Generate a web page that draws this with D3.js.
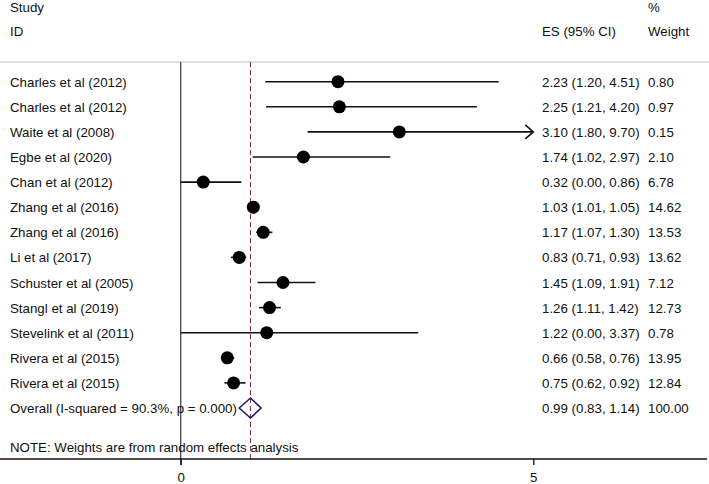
<!DOCTYPE html>
<html><head><meta charset="utf-8">
<script src="https://cdn.jsdelivr.net/npm/d3@7"></script>
<style>body{margin:0;background:#fff}svg{display:block}text{font-family:"Liberation Sans",Arial,sans-serif;font-size:13.3px;fill:#111}</style>
</head><body><svg id="c" width="709" height="484"></svg>
<script>
const studies = ["Charles et al (2012)","Charles et al (2012)","Waite et al (2008)","Egbe et al (2020)","Chan et al (2012)","Zhang et al (2016)","Zhang et al (2016)","Li et al (2017)","Schuster et al (2005)","Stangl et al (2019)","Stevelink et al (2011)","Rivera et al (2015)","Rivera et al (2015)"];
const es =    [2.23,2.25,3.10,1.74,0.32,1.03,1.17,0.83,1.45,1.26,1.22,0.66,0.75];
const lower = [1.20,1.21,1.80,1.02,0.00,1.01,1.07,0.71,1.09,1.11,0.00,0.58,0.62];
const upper = [4.51,4.20,9.70,2.97,0.86,1.05,1.30,0.93,1.91,1.42,3.37,0.76,0.92];
const weights = ["0.80","0.97","0.15","2.10","6.78","14.62","13.53","13.62","7.12","12.73","0.78","13.95","12.84"];
const overall = {es:0.99, lower:0.83, upper:1.14, weight:"100.00", label:"Overall  (I-squared = 90.3%, p = 0.000)"};
const xTicks = [0,5];
const xMax = 5; // display clip (arrow beyond)

const svg = d3.select("#c");
const x = d3.scaleLinear().domain([0,5]).range([180.7,533.3]);
const y = d3.scaleLinear().domain([0,1]).range([81.7,106.8]);
const f2 = d => d.toFixed(2);

// header
svg.append("text").attr("x",10).attr("y",12).text("Study");
svg.append("text").attr("x",10).attr("y",36).text("ID");
svg.append("text").attr("x",648).attr("y",12).text("%");
svg.append("text").attr("x",542).attr("y",36).text("ES (95% CI)");
svg.append("text").attr("x",648).attr("y",36).text("Weight");
svg.append("line").attr("x1",0).attr("x2",709).attr("y1",62).attr("y2",62).attr("stroke","#c4c4c4").attr("stroke-width",1.2);

// zero line
svg.append("line").attr("x1",x(0)).attr("x2",x(0)).attr("y1",62).attr("y2",465).attr("stroke","#444").attr("stroke-width",1.3);
// overall dashed line
svg.append("line").attr("x1",x(overall.es)).attr("x2",x(overall.es)).attr("y1",62).attr("y2",459).attr("stroke","#8b2a3a").attr("stroke-width",1).attr("stroke-dasharray","5,3");

// CI lines
const rows = studies.map((s,i)=>({s,i,es:es[i],lo:lower[i],hi:upper[i],w:weights[i]}));
const g = svg.append("g");
g.selectAll("line.ci").data(rows).join("line").attr("class","ci")
  .attr("x1",d=>x(Math.max(0,d.lo))).attr("x2",d=>x(Math.min(xMax,d.hi)))
  .attr("y1",d=>y(d.i)).attr("y2",d=>y(d.i)).attr("stroke","#111").attr("stroke-width",1.6);
// arrows for clipped
g.selectAll("path.arr").data(rows.filter(d=>d.hi>xMax)).join("path").attr("class","arr")
  .attr("d",d=>{const tx=x(xMax), ty=y(d.i); return `M${tx-8},${ty-7}L${tx},${ty}L${tx-8},${ty+7}`;})
  .attr("fill","none").attr("stroke","#111").attr("stroke-width",1.6);
g.selectAll("circle").data(rows).join("circle")
  .attr("cx",d=>x(d.es)).attr("cy",d=>y(d.i)).attr("r",6.5).attr("fill","#000");

// labels
g.selectAll("text.st").data(rows).join("text").attr("class","st").attr("x",10).attr("y",d=>y(d.i)+5).text(d=>d.s);
g.selectAll("text.es").data(rows).join("text").attr("class","es").attr("x",542).attr("y",d=>y(d.i)+5)
  .text(d=>`${f2(d.es)} (${f2(d.lo)}, ${f2(d.hi)})`);
g.selectAll("text.w").data(rows).join("text").attr("class","w").attr("x",648).attr("y",d=>y(d.i)+5).text(d=>d.w);

// overall
const oy = y(studies.length);
svg.append("path").attr("d",`M${x(overall.lower)},${oy}L${x(overall.es)},${oy-10}L${x(overall.upper)},${oy}L${x(overall.es)},${oy+10}Z`)
  .attr("fill","none").attr("stroke","#1c1c6b").attr("stroke-width",1.6);
svg.append("text").attr("x",10).attr("y",oy+5).text(overall.label);
svg.append("text").attr("x",542).attr("y",oy+5).text(`${f2(overall.es)} (${f2(overall.lower)}, ${f2(overall.upper)})`);
svg.append("text").attr("x",648).attr("y",oy+5).text(overall.weight);
svg.append("text").attr("x",10).attr("y",452).text("NOTE: Weights are from random effects analysis");

// axis
svg.append("line").attr("x1",0).attr("x2",707).attr("y1",459).attr("y2",459).attr("stroke","#111").attr("stroke-width",1.4);
const ax = svg.append("g").attr("transform","translate(0,459)").call(d3.axisBottom(x).tickValues(xTicks).tickSize(6).tickPadding(8).tickFormat(d3.format("d")));
ax.select(".domain").remove();
ax.selectAll("line").attr("stroke","#111").attr("stroke-width",1.3);
ax.selectAll("text").style("font-size","13.3px").style("font-family","Liberation Sans, Arial, sans-serif").attr("fill","#111");
</script></body></html>
